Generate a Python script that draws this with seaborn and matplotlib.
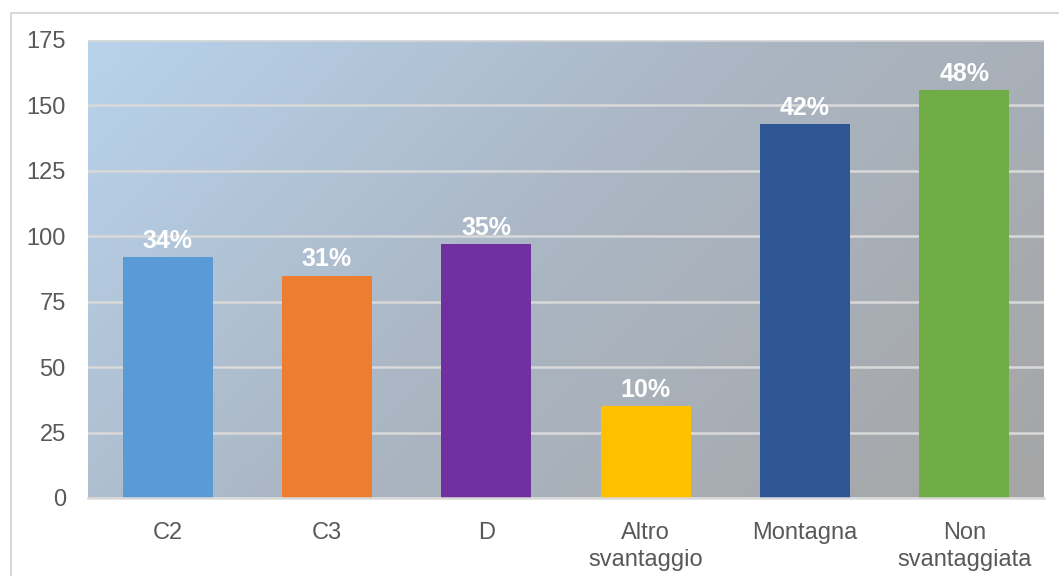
import numpy as np
import pandas as pd
import matplotlib
matplotlib.use("Agg")
import matplotlib.pyplot as plt
from matplotlib.colors import LinearSegmentedColormap
import seaborn as sns

# Aree (zone) and counts, with the share shown above each bar
categories = ["C2", "C3", "D", "Altro\nsvantaggio", "Montagna", "Non\nsvantaggiata"]
counts = [92, 85, 97, 35, 143, 156]
shares = ["34%", "31%", "35%", "10%", "42%", "48%"]
bar_colors = ["#5b9bd5", "#ed7d31", "#7030a0", "#ffc000", "#2e5594", "#70ad47"]
y_ticks = [0, 25, 50, 75, 100, 125, 150, 175]

df = pd.DataFrame({"zona": categories, "n": counts})

sns.set_theme(style="white")
plt.rcParams["font.family"] = ["Liberation Sans", "DejaVu Sans"]

W, H = 1059, 576
fig = plt.figure(figsize=(W / 100, H / 100), dpi=100)
fig.patch.set_facecolor("white")

# Thin light-grey frame around the chart (left and top edges visible)
fig.add_artist(plt.Line2D([10.5 / W, 10.5 / W], [0, 1 - 12.5 / H],
                          transform=fig.transFigure, color="#d9d9d9", lw=1.5))
fig.add_artist(plt.Line2D([10.5 / W, 1], [1 - 12.5 / H, 1 - 12.5 / H],
                          transform=fig.transFigure, color="#d9d9d9", lw=1.5))

left, right, top, bottom = 88, 1044, 40, 498
ax = fig.add_axes([left / W, 1 - bottom / H, (right - left) / W, (bottom - top) / H])

# Diagonal gradient for the plotting area: light blue top-left to grey bottom-right
gx, gy = np.meshgrid(np.linspace(0, 1, 400), np.linspace(0, 1, 200))
aspect = (right - left) / (bottom - top)
t = (gx * aspect + gy) / (aspect + 1)
cmap = LinearSegmentedColormap.from_list(
    "bg", [(0.0, "#b8d3ec"), (0.45, "#abb7c5"), (1.0, "#a5a5a5")])
ax.imshow(t, cmap=cmap, extent=(-0.5, len(categories) - 0.5, 0, 175),
          aspect="auto", origin="upper", zorder=0, interpolation="bilinear")

sns.barplot(data=df, x="zona", y="n", hue="zona", palette=bar_colors,
            legend=False, width=0.565, saturation=1, linewidth=0,
            ax=ax, zorder=3)

ax.set_xlim(-0.5, len(categories) - 0.5)
ax.set_ylim(0, 175)
ax.set_yticks(y_ticks)
ax.yaxis.grid(True, color="#d9d9d9", lw=1.8, zorder=1)
ax.set_axisbelow(False)
for gl in ax.get_ygridlines():
    gl.set_zorder(1)
ax.xaxis.grid(False)

for side in ["left", "right", "top"]:
    ax.spines[side].set_visible(False)
ax.spines["bottom"].set_color("#d9d9d9")
ax.spines["bottom"].set_linewidth(1.8)
ax.spines["bottom"].set_zorder(4)

ax.set_xlabel("")
ax.set_ylabel("")
ax.tick_params(axis="y", length=0, pad=16, labelsize=17, labelcolor="#595959")
ax.tick_params(axis="x", length=0, pad=17, labelsize=17, labelcolor="#595959")
for lab in ax.get_xticklabels():
    lab.set_linespacing(1.3)

for i, (v, s) in enumerate(zip(counts, shares)):
    ax.annotate(s, (i, v), xytext=(0, 3), textcoords="offset points",
                ha="center", va="bottom", color="white", fontsize=18,
                fontweight="bold", zorder=5)

fig.savefig("out.png", dpi=100)
